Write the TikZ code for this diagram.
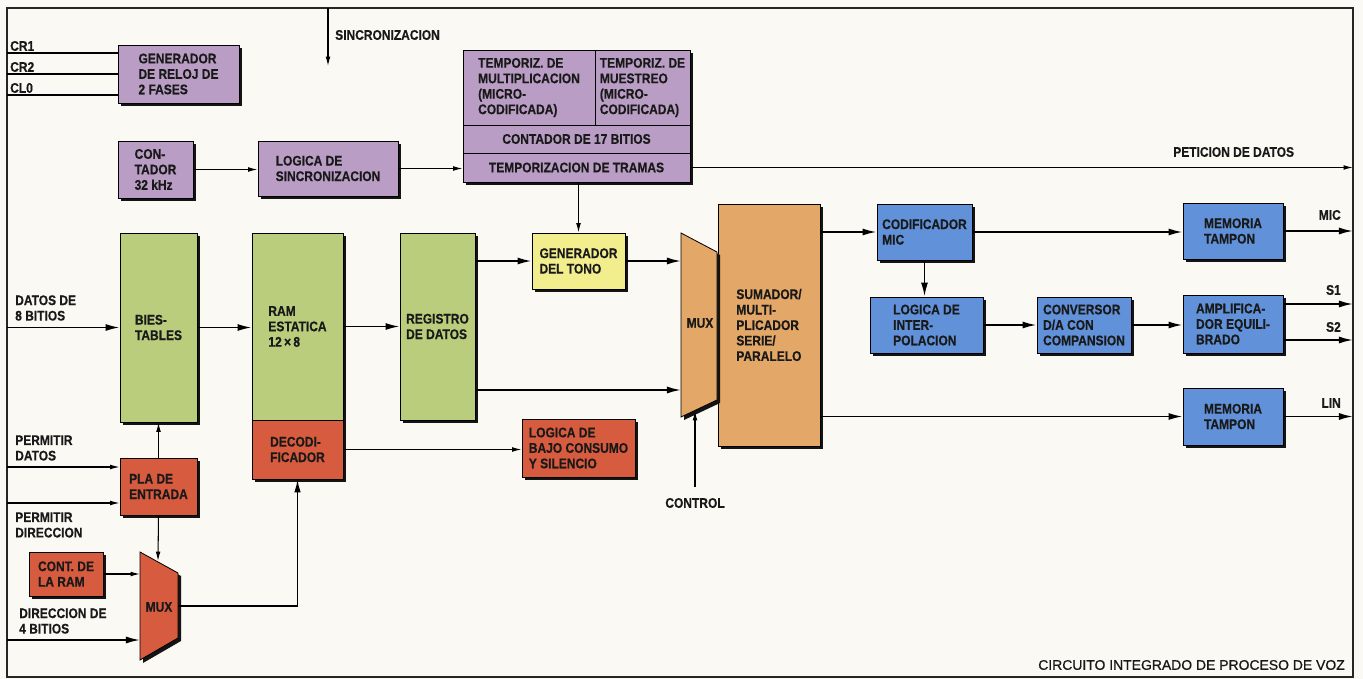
\documentclass[tikz,border=0pt]{standalone}
\usepackage{fontspec}
\setmainfont{Liberation Sans}[FakeStretch=0.86, BoldFeatures={FakeBold=0.4}]
\newfontfamily\widefont{Liberation Sans}[FakeBold=0.8]
\usetikzlibrary{arrows.meta}
\definecolor{bgc}{HTML}{FBF9F3}
\definecolor{pur}{HTML}{B99DC4}
\definecolor{grn}{HTML}{B9CD7C}
\definecolor{red}{HTML}{D75B3F}
\definecolor{yel}{HTML}{F2EE8E}
\definecolor{org}{HTML}{E3A767}
\definecolor{blu}{HTML}{6091D9}
\tikzset{
  lbl/.style={font=\bfseries\fontsize{11.9pt}{13.2pt}\selectfont, inner sep=0pt, align=left, text=black!90},
  box/.style={lbl, draw=black, line width=0.7pt},
  shd/.style={fill=black!92},
  thk/.style={line width=1.5pt, -{Latex[length=12pt,width=6pt]}},
  thn/.style={line width=0.9pt, -{Latex[length=8pt,width=4pt]}},
  pln/.style={line width=0.9pt},
}
\newcommand\bx[7]{\fill[shd] ({#2+3},{#3+3}) rectangle ({#4+3},{#5+3});
  \node[box, fill=#6, minimum width={(#4-#2)*0.03cm}, minimum height={(#5-#3)*0.03cm}] (#1) at ({(#2+#4)/2},{(#3+#5)/2}) {#7};}
\newcommand\cl[7]{\node[box, fill=#6, minimum width={(#4-#2)*0.03cm}, minimum height={(#5-#3)*0.03cm}] (#1) at ({(#2+#4)/2},{(#3+#5)/2}) {#7};}
\begin{document}
\begin{tikzpicture}[x=0.03cm,y=-0.03cm]
\useasboundingbox (0,0) rectangle (1363,679);
\fill[bgc] (0,0) rectangle (1363,679);
% frame
\draw[line width=0.9pt, black!85] (7,8) rectangle (1353,677);
\coordinate (L) at (7,0);
\coordinate (R) at (1353,0);

% purple blocks
\bx{gen2f}{118}{45}{239}{103}{pur}{GENERADOR\\DE RELOJ DE\\2 FASES}
\bx{cont32}{118}{141}{193}{198}{pur}{CON-\\TADOR\\32 kHz}
\bx{logsinc}{258}{141}{398}{196}{pur}{LOGICA DE\\SINCRONIZACION}
\fill[shd] (466,53) rectangle (693,185);
\cl{tmul}{463}{50}{595}{125}{pur}{TEMPORIZ. DE\\MULTIPLICACION\\(MICRO-\\CODIFICADA)}
\cl{tmue}{595}{50}{690}{125}{pur}{TEMPORIZ. DE\\MUESTREO\\(MICRO-\\CODIFICADA)}
\cl{c17}{463}{125}{690}{153}{pur}{CONTADOR DE 17 BITIOS}
\cl{ttr}{463}{153}{690}{182}{pur}{TEMPORIZACION DE TRAMAS}

% green / red / yellow / orange
\bx{bies}{120}{233}{197}{422}{grn}{BIES-\\TABLES}
\bx{ram}{252}{233}{343}{420}{grn}{RAM\\ESTATICA\\12\,×\,8}
\bx{deco}{252}{420}{343}{479}{red}{DECODI-\\FICADOR}
\bx{reg}{400}{233}{475}{420}{grn}{REGISTRO\\DE DATOS}
\bx{tono}{532}{233}{625}{289}{yel}{GENERADOR\\DEL TONO}
\bx{bajo}{522}{419}{635}{477}{red}{LOGICA DE\\BAJO CONSUMO\\Y SILENCIO}
\bx{sum}{718}{204}{820}{446}{org}{SUMADOR/\\MULTI-\\PLICADOR\\SERIE/\\PARALELO}
\fill[shd] (684,236) -- (720,255) -- (720,403) -- (684,420) -- cycle;
\path[draw=black, line width=0.7pt, fill=org] (681,233) -- (717,252) -- (717,400) -- (681,417) -- cycle;
\node[lbl] (mux1) at (700,323) {MUX};
\bx{pla}{120}{458}{197}{515}{red}{PLA DE\\ENTRADA}
\bx{contram}{29}{552}{103}{596}{red}{CONT. DE\\LA RAM}
\fill[shd] (143,555) -- (181,576) -- (181,641) -- (143,663) -- cycle;
\path[draw=black, line width=0.7pt, fill=red] (140,552) -- (178,573) -- (178,638) -- (140,660) -- cycle;
\node[lbl] (mux2) at (159,607) {MUX};

% blue
\bx{codmic}{877}{204}{972}{260}{blu}{CODIFICADOR\\MIC}
\bx{mt1}{1183}{203}{1283}{259}{blu}{MEMORIA\\TAMPON}
\bx{interp}{870}{297}{983}{353}{blu}{LOGICA DE\\INTER-\\POLACION}
\bx{conv}{1037}{297}{1131}{353}{blu}{CONVERSOR\\D/A CON\\COMPANSION}
\bx{ampl}{1183}{295}{1283}{353}{blu}{AMPLIFICA-\\DOR EQUILI-\\BRADO}
\bx{mt2}{1183}{388}{1283}{445}{blu}{MEMORIA\\TAMPON}

% coordinates
\coordinate (cr1) at (7,53);
\coordinate (cr2) at (7,74);
\coordinate (cl0) at (7,95);
\coordinate (sinc0) at (328,8);
\coordinate (sinc1) at (328,66);
\coordinate (m1w) at (681,325);
\coordinate (m1b) at (681,390);
\coordinate (ctl0) at (695,487);
\coordinate (ctl1) at (695,411);
\coordinate (s1) at (1353,304);
\coordinate (s2) at (1353,340);
\coordinate (pd) at (7,467);
\coordinate (pdir) at (7,503);
\coordinate (m2top) at (158,561);
\coordinate (m2w) at (140,606);
\coordinate (d4) at (7,640);
\coordinate (m2e) at (178,606);

% connectors
\draw[pln] (cr1) -- (cr1 -| gen2f.west);
\draw[pln] (cr2) -- (cr2 -| gen2f.west);
\draw[pln] (cl0) -- (cl0 -| gen2f.west);
\draw[thn] (sinc0) -- (sinc1);
\draw[thn] (cont32.east) -- (cont32.east -| logsinc.west);
\draw[thn] (logsinc.east) -- (logsinc.east -| ttr.west);
\draw[thn] (ttr.east) -- (ttr.east -| R);
\draw[thn] (ttr.south -| tono.north) -- (tono.north);
\draw[thk] (bies.west -| L) -- (bies.west);
\draw[thk] (bies.east) -- (bies.east -| ram.west);
\draw[thk] (ram.east) -- (ram.east -| reg.west);
\draw[thk] (tono.west -| reg.east) -- (tono.west);
\draw[thk] (tono.east) -- (tono.east -| m1w);
\draw[thk] (m1b -| reg.east) -- (m1b);
\draw[thn] (deco.east) -- (deco.east -| bajo.west);
\draw[thn] (ctl0) -- (ctl1);
\draw[thk] (codmic.west -| sum.east) -- (codmic.west);
\draw[thk] (codmic.east) -- (codmic.east -| mt1.west);
\draw[thk] (mt1.east) -- (mt1.east -| R);
\draw[thk] (codmic.south) -- (codmic.south |- interp.north);
\draw[thk] (interp.east) -- (interp.east -| conv.west);
\draw[thk] (conv.east) -- (conv.east -| ampl.west);
\draw[thk] (s1 -| ampl.east) -- (s1);
\draw[thk] (s2 -| ampl.east) -- (s2);
\draw[thk] (mt2.west -| sum.east) -- (mt2.west);
\draw[thk] (mt2.east) -- (mt2.east -| R);
\draw[thn] (pd) -- (pd -| pla.west);
\draw[thn] (pdir) -- (pdir -| pla.west);
\draw[thn] (pla.north) -- (bies.south);
\draw[thn] (pla.south) -- (m2top);
\draw[thn] (contram.east) -- (contram.east -| m2w);
\draw[thk] (d4) -- (d4 -| m2w);
\draw[line width=1.3pt, -{Latex[length=11pt,width=5.5pt]}] (m2e) -| (deco.south);

% labels
\node[lbl, anchor=west] (tcr1) at (10,46) {CR1};
\node[lbl, anchor=west] (tcr2) at (10,67) {CR2};
\node[lbl, anchor=west] (tcl0) at (10,88) {CL0};
\node[lbl, anchor=west] (tsinc) at (335,35) {SINCRONIZACION};
\node[lbl, anchor=west] (tpet) at (1173,152) {PETICION DE DATOS};
\node[lbl, anchor=east] (tmic) at (1341,215) {MIC};
\node[lbl, anchor=east] (ts1) at (1341,290) {S1};
\node[lbl, anchor=east] (ts2) at (1341,327) {S2};
\node[lbl, anchor=east] (tlin) at (1341,403) {LIN};
\node[lbl, anchor=west] (tdat) at (15,308) {DATOS DE\\8 BITIOS};
\node[lbl, anchor=west] (tpd) at (15,448) {PERMITIR\\DATOS};
\node[lbl, anchor=west] (tpdir) at (15,525) {PERMITIR\\DIRECCION};
\node[lbl, anchor=west] (td4) at (19,621) {DIRECCION DE\\4 BITIOS};
\node[lbl] (tctl) at (695,503) {CONTROL};
\node[lbl, anchor=east, font=\widefont\fontsize{11.9pt}{13.2pt}\selectfont] (ttit) at (1345,665) {CIRCUITO INTEGRADO DE PROCESO DE VOZ};
\end{tikzpicture}
\end{document}
